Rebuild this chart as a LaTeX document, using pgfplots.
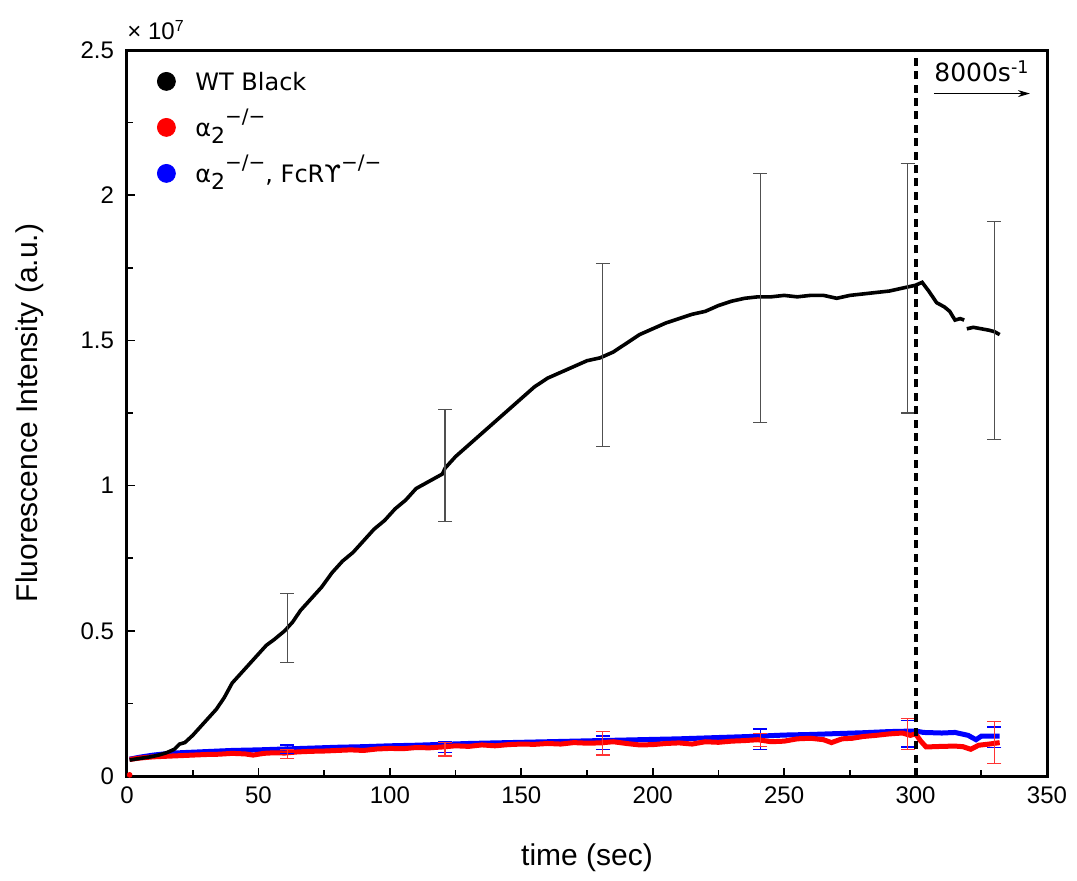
\documentclass[border=0pt]{standalone}
\usepackage{fontspec}
\setmainfont{Liberation Sans}
\newfontfamily\dejavu{DejaVu Sans}
\usepackage{pgfplots}
\pgfplotsset{compat=1.18}
\usetikzlibrary{arrows.meta}
\definecolor{ebgray}{RGB}{80,80,80}
\newcommand{\supm}{\raisebox{0.55em}{\fontsize{10}{12}\selectfont −/−}}
\newcommand{\subtwo}{\raisebox{-0.3em}{\fontsize{11}{12}\selectfont 2}}
\begin{document}
\begin{tikzpicture}
\begin{axis}[name=ax, scale only axis, width=460pt, height=363pt,
  xmin=0, xmax=350, ymin=0, ymax=2.5,
  xtick={0,50,100,150,200,250,300,350},
  ytick={0,0.5,1,1.5,2,2.5}, yticklabels={0,0.5,1,1.5,2,2.5},
  minor x tick num=1, minor y tick num=1,
  tick pos=left, tick align=inside,
  axis line style={line width=1.5pt},
  major tick length=4pt, minor tick length=3pt,
  every tick/.style={black, line width=0.8pt},
  ticklabel style={font=\fontsize{12}{14}\selectfont},
  y tick label style={xshift=-3pt},
  x tick label style={yshift=-2pt},
  /pgf/number format/assume math mode=true,
  xlabel={time (sec)}, ylabel={Fluorescence Intensity (a.u.)},
  label style={font=\fontsize{15}{18}\selectfont},
  x label style={at={(axis description cs:0.5,-0.113)}, anchor=center},
  y label style={at={(axis description cs:-0.1054,0.5)}, anchor=center},
  unbounded coords=jump,
  legend cell align=left,
  legend style={draw=none, fill=none, at={(axis description cs:0,1)}, anchor=north west,
    xshift=6pt, yshift=-4pt, inner sep=0pt,
    font=\dejavu\fontsize{12}{14}\selectfont, row sep=0pt, column sep=0pt,
    nodes={text height=15pt, text depth=6pt, inner sep=1pt}},
]
\addlegendimage{legend image code/.code={\path[draw=none,fill=none] (0,0) rectangle (27pt,1pt); \fill[black] (13.5pt,0) circle (4.5pt);}}
\addlegendentry{WT Black}
\addlegendimage{legend image code/.code={\path[draw=none,fill=none] (0,0) rectangle (27pt,1pt); \fill[red] (13.5pt,0) circle (4.5pt);}}
\addlegendentry{α\subtwo\supm}
\addlegendimage{legend image code/.code={\path[draw=none,fill=none] (0,0) rectangle (27pt,1pt); \fill[blue] (13.5pt,0) circle (4.5pt);}}
\addlegendentry{α\subtwo\supm, FcRϒ\supm}

% blue
\addplot[blue, line width=2.5pt, forget plot] coordinates {
(1,0.058) (5,0.065) (10,0.072) (15,0.077) (20,0.080) (30,0.084) (40,0.088)
(50,0.090) (60,0.093) (70,0.096) (80,0.099) (90,0.101) (100,0.104) (110,0.106)
(120,0.109) (130,0.112) (140,0.114) (150,0.116) (160,0.118) (170,0.120)
(180,0.122) (190,0.124) (200,0.126) (210,0.128) (220,0.131) (230,0.134)
(240,0.137) (250,0.141) (260,0.143) (270,0.146) (280,0.149) (290,0.153)
(300,0.155) (303,0.150) (310,0.148) (315,0.150) (320,0.140) (323,0.125)
(325,0.137) (332,0.137)
};
% red
\addplot[red, line width=2.5pt, forget plot] coordinates {
(1,0.057) (5,0.062) (10,0.066) (15,0.068) (20,0.070) (25,0.072) (30,0.074)
(35,0.075) (40,0.078) (45,0.076) (48,0.072) (52,0.078) (56,0.080) (60,0.079)
(65,0.083) (70,0.085) (75,0.086) (80,0.088) (85,0.090) (90,0.088) (95,0.093)
(100,0.095) (105,0.094) (110,0.098) (115,0.097) (120,0.100) (125,0.104)
(130,0.102) (135,0.107) (140,0.104) (145,0.108) (150,0.110) (155,0.109)
(160,0.112) (165,0.110) (170,0.115) (175,0.113) (180,0.114) (185,0.118)
(190,0.112) (195,0.107) (200,0.108) (205,0.112) (210,0.114) (215,0.110)
(220,0.118) (225,0.116) (230,0.120) (235,0.122) (240,0.125) (245,0.118)
(250,0.120) (255,0.128) (260,0.130) (265,0.125) (268,0.115) (272,0.128)
(276,0.130) (280,0.136) (285,0.140) (290,0.145) (295,0.148) (298,0.140)
(300,0.145) (302,0.120) (304,0.100) (310,0.102) (315,0.103) (318,0.101)
(321,0.092) (324,0.106) (328,0.110) (332,0.115)
};
\addplot[red, only marks, mark=*, mark size=1.2pt, forget plot] coordinates {(1,0.004)};
% black
\addplot[black, line width=1.8pt, forget plot] coordinates {
(1,0.055) (3,0.058) (6,0.062) (9,0.066) (12,0.072) (15,0.080) (18,0.092)
(20,0.110) (22,0.115) (25,0.14) (28,0.17) (31,0.20) (34,0.23) (37,0.27)
(40,0.32) (43,0.35) (46,0.38) (50,0.42) (53,0.45) (56,0.47) (60,0.50)
(63,0.53) (66,0.57) (70,0.61) (74,0.65) (78,0.70) (82,0.74) (86,0.77)
(90,0.81) (94,0.85) (98,0.88) (102,0.92) (106,0.95) (110,0.99) (114,1.01)
(118,1.03) (120,1.04) (121,1.06) (125,1.10) (130,1.14) (135,1.18) (140,1.22)
(145,1.26) (150,1.30) (155,1.34) (160,1.37) (165,1.39) (170,1.41) (175,1.43)
(180,1.44) (185,1.46) (190,1.49) (195,1.52) (200,1.54) (205,1.56) (210,1.575)
(215,1.59) (220,1.60) (225,1.62) (230,1.635) (235,1.645) (240,1.65) (245,1.65)
(250,1.655) (255,1.65) (260,1.655) (265,1.655) (270,1.645) (275,1.655)
(280,1.66) (285,1.665) (290,1.67) (295,1.68) (300,1.69) (302.5,1.70)
(305,1.67) (308,1.63) (311,1.615) (313,1.60) (315,1.57) (317,1.575) (318.5,1.57)
(318.9,nan)
(319.5,1.54) (322,1.545) (325,1.54) (328,1.535) (330,1.53) (332,1.52)
};
% error bars
\addplot[draw=none, mark=none, forget plot,
  error bars/.cd, y dir=both, y explicit,
  error bar style={line width=0.6pt, draw=ebgray},
  error mark options={rotate=90, mark size=3.5pt, line width=0.6pt, draw=ebgray}]
coordinates {
(61,0.51) +- (0,0.118)
(121,1.07) +- (0,0.193)
(181,1.45) +- (0,0.316)
(241,1.646) +- (0,0.43)
(297,1.68) +- (0,0.43)
(330,1.535) +- (0,0.375)
};
\addplot[draw=none, mark=none, forget plot,
  error bars/.cd, y dir=both, y explicit,
  error bar style={line width=0.6pt, draw=blue},
  error mark options={rotate=90, mark size=3.5pt, line width=0.6pt, draw=blue}]
coordinates {
(61,0.092) +- (0,0.015)
(121,0.10) +- (0,0.019)
(181,0.114) +- (0,0.024)
(241,0.127) +- (0,0.035)
(297,0.145) +- (0,0.045)
(330,0.133) +- (0,0.036)
};
\addplot[draw=none, mark=none, forget plot,
  error bars/.cd, y dir=both, y explicit,
  error bar style={line width=0.6pt, draw=red!80!white},
  error mark options={rotate=90, mark size=3.5pt, line width=0.6pt, draw=red!80!white}]
coordinates {
(61,0.075) +- (0,0.015)
(121,0.092) +- (0,0.023)
(181,0.112) +- (0,0.04)
(241,0.124) +- (0,0.023)
(297,0.145) +- (0,0.053)
(330,0.115) +- (0,0.072)
};
% dashed line
\addplot[black, line width=2pt, dash pattern=on 4pt off 2.7pt, forget plot] coordinates {(300,0) (300,2.5)};
\draw[-{Stealth[length=6pt,width=3.5pt]}, line width=0.6pt] (axis cs:307,2.35) -- (axis cs:343.5,2.35);
\node[anchor=base west, inner sep=0pt, font=\dejavu\fontsize{12.5}{14}\selectfont] at (axis cs:307,2.39) {8000s\textsuperscript{-1}};
\end{axis}
\node[anchor=base west, inner sep=0pt, font=\fontsize{12}{14}\selectfont] at ([yshift=5pt]ax.north west) {× 10\textsuperscript{7}};
\pgfresetboundingbox
\path[use as bounding box] ([xshift=-63.5pt,yshift=-52pt]ax.south west) rectangle ([xshift=15pt,yshift=25pt]ax.north east);
\end{tikzpicture}
\end{document}
